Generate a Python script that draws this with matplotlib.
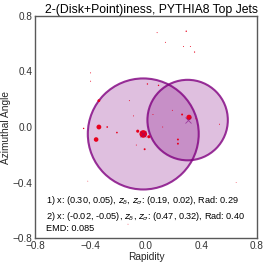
import matplotlib.pyplot as plt
from matplotlib.patches import Circle

plt.rcParams['font.family'] = ['Liberation Sans', 'DejaVu Sans']

# fitted disks: centre, radius
centers = [(0.30, 0.05), (-0.02, -0.05)]
radii = [0.29, 0.40]

# particles (rapidity, azimuth, marker area)
px = [-0.02, -0.06, 0.02, 0.31, -0.34, -0.36, -0.34, -0.40, -0.40, 0.01, 0.09,
      -0.45, -0.28, -0.21, -0.12, -0.09, -0.07, -0.01, 0.23, 0.23, 0.12,
      0.05, 0.19, 0.26, 0.36, 0.53, -0.42, 0.65, -0.13, 0.08, 0.29,
      0.14, 0.27, 0.32, 0.35]
py = [-0.05, -0.03, -0.07, 0.07, 0.00, -0.09, 0.19, 0.39, 0.33, 0.31, 0.30,
      -0.01, 0.00, -0.04, 0.19, 0.08, -0.13, -0.16, -0.09, -0.12, 0.00,
      0.09, 0.12, 0.09, 0.06, 0.02, -0.39, -0.40, -0.70, 0.68, 0.69,
      0.61, 0.58, 0.58, 0.54]
ps = [30, 5, 5, 14, 12, 11, 4, 0.5, 0.5, 1, 1,
      1, 1.5, 1.5, 0.5, 0.5, 0.5, 2, 2, 2, 0.5,
      0.5, 0.5, 2, 0.5, 0.5, 0.3, 0.3, 0.3, 0.5, 1,
      0.5, 0.5, 0.5, 0.8]

ticks = [-0.8, -0.4, 0.0, 0.4, 0.8]
info = ["1) x: (0.30, 0.05), $z_\\delta$, $z_\\sigma$: (0.19, 0.02), Rad: 0.29",
        "2) x: (-0.02, -0.05), $z_\\delta$, $z_\\sigma$: (0.47, 0.32), Rad: 0.40",
        "EMD: 0.085"]

fig = plt.figure(figsize=(2.66, 2.66), dpi=100)
ax = fig.add_axes([0.132, 0.105, 0.834, 0.835])

for (cx, cy), r in zip(centers, radii):
    ax.add_patch(Circle((cx, cy), r, facecolor='purple', alpha=0.25, edgecolor='none'))
    ax.add_patch(Circle((cx, cy), r, facecolor='none', edgecolor='purple', lw=1.5, alpha=0.8))

ax.scatter(px, py, s=ps, color='#e8001c', zorder=3, linewidths=0)
for cx, cy in centers:
    ax.plot(cx, cy, marker='x', color='purple', ms=5, mew=0.6, alpha=0.6, zorder=4)

ax.text(-0.725, -0.485, "\n".join(info), fontsize=6.6, va='top', linespacing=1.25)

ax.set_xlim(-0.8, 0.8)
ax.set_ylim(-0.8, 0.8)
ax.set_xticks(ticks)
ax.set_yticks(ticks)
ax.set_xticklabels(['\u22120.8', '\u22120.4', '0.0', '0.4', '0.8'])
ax.set_yticklabels(['\u22120.8', '\u22120.4', '0.0', '0.4', '0.8'])
ax.tick_params(length=0, labelsize=7.2, labelcolor='0.2', pad=2)
for sp in ax.spines.values():
    sp.set_color('0.35')
    sp.set_linewidth(1.0)
ax.set_xlabel('Rapidity', fontsize=7.3, color='0.15', labelpad=1)
ax.set_ylabel('Azimuthal Angle', fontsize=7.3, color='0.15', labelpad=1)
ax.set_title('2-(Disk+Point)iness, PYTHIA8 Top Jets', fontsize=8.8, x=0.525, pad=2)

fig.savefig('out.png', dpi=100)
